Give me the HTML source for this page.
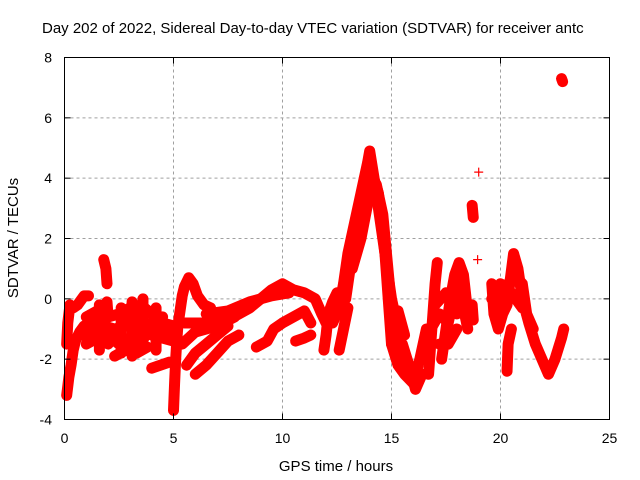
<!DOCTYPE html>
<html><head><meta charset="utf-8"><style>
body{margin:0;background:#fff;}
svg{display:block;font-family:"Liberation Sans",sans-serif;}
</style></head><body>
<svg id="chart" width="640" height="480" viewBox="0 0 640 480">
<rect width="640" height="480" fill="#fff"/>
<g id="grid"></g>
<g id="series"></g>
<rect x="64.5" y="57.5" width="545" height="362" fill="none" stroke="#000" stroke-width="1"/>
<g id="ticks"></g>
<text x="42" y="33" font-size="15" fill="#000">Day 202 of 2022, Sidereal Day-to-day VTEC variation (SDTVAR) for receiver antc</text>
<text x="336" y="471" font-size="15" text-anchor="middle">GPS time / hours</text>
<text transform="translate(18,238) rotate(-90)" font-size="15" text-anchor="middle">SDTVAR / TECUs</text>
</svg>
<script>
const xTicks=[0,5,10,15,20,25];
const yTicks=[-4,-2,0,2,4,6,8];
const trackA=[[0.1,-3.2],[0.2,-2.6],[0.3,-2.2],[0.4,-1.7],[0.5,-1.4],[0.7,-1.1],[0.9,-0.9],[1.2,-0.8],[1.5,-0.6]];
const trackA2=[[0.1,-1.5],[0.15,-0.8],[0.25,-0.2],[0.4,-0.3],[0.6,-0.2],[0.9,0.1],[1.1,0.1]];
const trackA3=[[1.8,1.3],[1.9,1.0],[1.95,0.5]];
const trackA4=[[1.95,-0.1],[2.0,-0.6]];
const trackB1=[[1.0,-1.5],[1.5,-1.3],[2.0,-1.2],[2.5,-1.5],[3.0,-1.3],[3.5,-1.0],[4.0,-1.2],[4.5,-1.3],[5.0,-1.4]];
const trackB2=[[1.0,-0.6],[1.5,-0.4],[2.0,-0.6],[2.5,-0.5],[3.0,-0.3],[3.5,-0.2],[4.0,-0.5],[4.5,-0.8],[5.0,-0.9]];
const trackB3=[[2.3,-1.9],[2.8,-1.7],[3.3,-1.8],[3.8,-1.6]];
const trackB5=[[0.8,-1.2],[1.3,-1.0],[1.8,-0.9],[2.3,-1.0],[2.8,-0.9],[3.3,-0.7],[3.8,-0.9],[4.3,-1.0],[4.8,-1.2]];
const trackB6=[[2.0,-1.5],[2.5,-1.1],[3.0,-0.6],[3.5,-1.5],[4.0,-0.8],[4.5,-0.6]];
const trackV1=[[1.6,-1.7],[1.6,-0.9],[1.6,-0.2]];
const trackV2=[[2.6,-1.8],[2.6,-1.0],[2.6,-0.3]];
const trackV3=[[3.1,-1.9],[3.1,-1.0],[3.1,-0.1]];
const trackV4=[[3.6,-1.6],[3.6,-0.8],[3.6,0.0]];
const trackV5=[[4.2,-1.7],[4.2,-0.9],[4.2,-0.3]];
const trackB4=[[4.0,-2.3],[4.4,-2.2],[4.8,-2.1]];
const trackC1=[[5.0,-3.7],[5.05,-2.8],[5.1,-2.0],[5.15,-1.4],[5.2,-0.9],[5.3,-0.4],[5.4,0.1],[5.5,0.4],[5.7,0.7],[5.9,0.5],[6.1,0.1],[6.4,-0.2],[6.7,-0.3]];
const trackC2=[[5.5,-0.8],[6.5,-0.8],[7.5,-0.7],[8.0,-0.5],[8.5,-0.3],[9.0,0.0],[9.5,0.3],[10.0,0.5],[10.5,0.3],[11.0,0.2],[11.5,0.0],[11.8,-0.5],[12.0,-0.8]];
const trackC3=[[5.6,-2.2],[6.0,-1.8],[6.5,-1.5],[7.0,-1.2],[7.5,-0.9]];
const trackC4=[[6.0,-2.5],[6.5,-2.2],[7.0,-1.8],[7.5,-1.4],[8.0,-1.2]];
const trackC5=[[5.4,-1.5],[6.0,-1.1],[7.0,-0.9],[7.8,-0.6]];
const trackC6=[[6.5,-0.5],[7.5,-0.4],[8.5,-0.1],[9.5,0.1],[10.3,0.2]];
const trackD1=[[8.8,-1.6],[9.3,-1.4],[9.6,-1.0],[10.0,-0.8],[10.5,-0.6],[11.0,-0.4],[11.3,-0.8]];
const trackD2=[[10.6,-1.4],[11.0,-1.3],[11.3,-1.2]];
const trackD3=[[11.9,-1.7],[12.0,-1.2],[12.1,-0.5],[12.3,-0.1],[12.5,0.2]];
const trackE1=[[12.3,-0.8],[12.6,-0.3],[12.8,0.5],[13.0,1.5],[13.3,2.5],[13.6,3.5],[13.9,4.5],[14.0,4.9],[14.2,4.0],[14.4,3.0],[14.6,2.0],[14.8,1.0],[15.0,0.0],[15.3,-1.0],[15.6,-2.0],[15.9,-2.7]];
const trackE2=[[13.2,1.0],[13.6,2.0],[14.0,3.5],[14.3,3.8],[14.6,2.8],[14.9,0.5]];
const trackE3=[[12.6,-1.7],[12.8,-1.0],[13.0,-0.3]];
const trackE4=[[12.9,0.0],[13.2,1.5],[13.5,2.8],[13.8,3.8],[14.1,4.2],[14.4,3.5],[14.7,1.5],[14.9,-0.5],[15.0,-1.5]];
const trackF1=[[15.0,-1.5],[15.3,-2.2],[15.6,-2.5],[16.0,-2.8],[16.3,-2.0],[16.6,-1.0]];
const trackF2=[[15.3,-0.4],[15.6,-1.2]];
const trackF3=[[15.5,-1.5],[15.8,-2.2],[16.1,-3.0],[16.4,-2.5]];
const trackG1=[[16.7,-2.5],[16.8,-1.5],[16.9,-0.5],[17.0,0.5],[17.1,1.2]];
const trackG2=[[17.3,-2.0],[17.5,-1.0],[17.7,0.0],[17.9,0.8],[18.1,1.2],[18.3,0.8],[18.5,-0.5]];
const trackG3=[[17.0,-0.2],[17.5,0.2],[18.0,-0.5],[18.4,0.0]];
const trackG4=[[16.8,-1.0],[17.2,-0.5],[17.6,-0.8],[18.0,0.5],[18.3,-0.3],[18.5,-1.0]];
const trackG5=[[17.2,-1.5],[17.6,-1.5],[18.0,-1.0]];
const trackH1=[[18.7,3.1],[18.75,2.7]];
const trackH2=[[19.0,4.2]];
const trackH3=[[18.95,1.3]];
const trackH4=[[18.7,-0.2],[18.75,-0.7]];
const trackI1=[[19.6,0.5],[19.7,-0.5],[19.9,-1.0],[20.1,-0.5],[20.3,-0.2],[20.6,1.5],[20.8,1.0],[21.0,0.0],[21.3,-0.8],[21.6,-1.5],[21.9,-2.0],[22.2,-2.5],[22.5,-2.0],[22.8,-1.3],[22.9,-1.0]];
const trackI2=[[19.6,0.0],[20.0,0.5],[20.5,0.2],[21.0,-0.3]];
const trackI3=[[20.3,-2.4],[20.35,-1.5],[20.5,-1.0]];
const trackI4=[[19.8,-0.3],[20.2,0.3],[20.6,0.8],[21.0,0.5],[21.2,-0.5],[21.5,-1.0]];
const trackJ=[[22.8,7.3],[22.85,7.2]];
const tracks=[trackA,trackA2,trackA3,trackA4,trackB1,trackB2,trackB3,trackB5,trackB6,trackV1,trackV2,trackV3,trackV4,trackV5,trackB4,trackC1,trackC2,trackC3,trackC4,trackC5,trackC6,trackD1,trackD2,trackD3,trackE1,trackE2,trackE3,trackE4,trackF1,trackF2,trackF3,trackG1,trackG2,trackG3,trackG4,trackG5,trackH1,trackH2,trackH3,trackH4,trackI1,trackI2,trackI3,trackI4,trackJ];

const NS="http://www.w3.org/2000/svg";
const X0=64.5,X1=609.5,Y0=419.5,Y1=57.5;
function sx(h){return X0+(h-0)/(25-0)*(X1-X0);}
function sy(v){return Y0-(v+4)/12*(Y0-Y1);}
function mk(t,a,p){const e=document.createElementNS(NS,t);for(const k in a)e.setAttribute(k,a[k]);p.appendChild(e);return e;}
const grid=document.getElementById('grid'),ticks=document.getElementById('ticks'),series=document.getElementById('series');
xTicks.forEach(t=>{
  const x=sx(t);
  if(t>0&&t<25){const l=mk('line',{x1:x,x2:x,y1:Y1,y2:Y0,stroke:'#a0a0a0','stroke-dasharray':'3,3'},grid);
  
  }
  mk('line',{x1:x,x2:x,y1:Y0,y2:Y0-6,stroke:'#000'},ticks);
  mk('line',{x1:x,x2:x,y1:Y1,y2:Y1+6,stroke:'#000'},ticks);
  const tx=mk('text',{x:x,y:443,'font-size':14,'text-anchor':'middle'},ticks);tx.textContent=t;
  
  
});
yTicks.forEach(t=>{
  const y=sy(t);
  if(t>-4&&t<8){const l=mk('line',{x1:X0,x2:X1,y1:y,y2:y,stroke:'#a0a0a0','stroke-dasharray':'3,3'},grid);
  
  }
  mk('line',{x1:X0,x2:X0+6,y1:y,y2:y,stroke:'#000'},ticks);
  mk('line',{x1:X1,x2:X1-6,y1:y,y2:y,stroke:'#000'},ticks);
  const tx=mk('text',{x:52,y:y+5,'font-size':14,'text-anchor':'end'},ticks);tx.textContent=t;
  
  
});
tracks.forEach(tr=>{
  if(tr.length>1){
    const pl=mk('polyline',{points:tr.map(p=>sx(p[0])+','+sy(p[1])).join(' '),fill:'none',stroke:'#f00','stroke-width':11,'stroke-linejoin':'round','stroke-linecap':'round'},series);
    
    
  }
  tr.forEach(p=>{
    const x=sx(p[0]),y=sy(p[1]);
    const m=mk('path',{d:`M${x-4.5},${y}H${x+4.5}M${x},${y-4.5}V${y+4.5}`,stroke:'#f00','stroke-width':1.2},series);
    
    
  });
});
</script>
</body></html>
